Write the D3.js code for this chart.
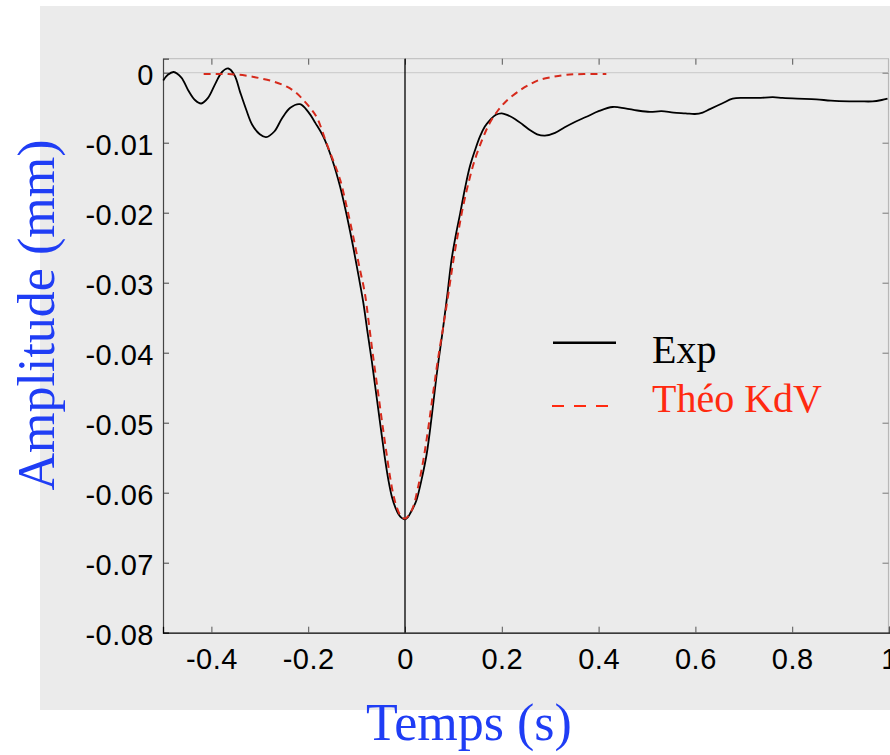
<!DOCTYPE html>
<html>
<head>
<meta charset="utf-8">
<script src="https://cdn.jsdelivr.net/npm/d3@7"></script>
<style>
  html, body { margin: 0; padding: 0; background: #ffffff; }
  svg { display: block; }
</style>
</head>
<body>
<svg id="chart" width="890" height="755"></svg>
<script>
// ---------- data ----------
const xTicks = [-0.4, -0.2, 0, 0.2, 0.4, 0.6, 0.8, 1];
const yTicks = [0, -0.01, -0.02, -0.03, -0.04, -0.05, -0.06, -0.07, -0.08];
const xLabel = "Temps (s)";
const yLabel = "Amplitude (mm)";
const seriesNames = ["Exp", "Théo KdV"];

const tExp = [-0.4995, -0.49, -0.478, -0.462, -0.448, -0.434, -0.421, -0.407, -0.392, -0.378,
  -0.365, -0.352, -0.341, -0.328, -0.316, -0.3, -0.287, -0.27, -0.254, -0.237,
  -0.217, -0.2, -0.185, -0.169, -0.15, -0.134, -0.12, -0.107, -0.096, -0.086,
  -0.078, -0.069, -0.062, -0.055, -0.048, -0.041, -0.034, -0.027, -0.02, -0.014,
  -0.007, 0, 0.006, 0.012, 0.018, 0.024, 0.034, 0.045, 0.055, 0.065,
  0.072, 0.079, 0.088, 0.096, 0.105, 0.114, 0.124, 0.134, 0.145, 0.155,
  0.165, 0.175, 0.188, 0.2, 0.213, 0.227, 0.243, 0.258, 0.273, 0.289,
  0.31, 0.33, 0.352, 0.375, 0.4, 0.429, 0.455, 0.48, 0.506, 0.53,
  0.555, 0.58, 0.599, 0.615, 0.63, 0.655, 0.677, 0.7, 0.73, 0.76,
  0.78, 0.81, 0.85, 0.88, 0.918, 0.94, 0.966, 0.985, 0.997];
const ampExp = [-0.0011, -0.0003, 0.0001, -0.0007, -0.0025, -0.0039, -0.0044, -0.0036, -0.0016, 0.0001,
  0.0006, -0.0004, -0.0027, -0.0053, -0.0074, -0.0088, -0.0092, -0.0084, -0.0065, -0.0050,
  -0.0045, -0.0056, -0.0072, -0.0091, -0.0125, -0.0163, -0.0205, -0.0249, -0.0290, -0.0329,
  -0.0368, -0.0410, -0.0446, -0.0482, -0.0518, -0.0553, -0.0583, -0.0606, -0.0621, -0.0630,
  -0.0636, -0.0638, -0.0635, -0.0628, -0.0620, -0.0610, -0.0582, -0.0544, -0.0492, -0.0434,
  -0.0398, -0.0363, -0.0314, -0.0268, -0.0232, -0.0201, -0.0165, -0.0134, -0.0110, -0.0091,
  -0.0077, -0.0068, -0.0060, -0.0058, -0.0061, -0.0066, -0.0074, -0.0082, -0.0088, -0.0090,
  -0.0086, -0.0078, -0.0070, -0.0063, -0.0055, -0.0049, -0.0051, -0.0054, -0.0056, -0.0055,
  -0.0057, -0.0058, -0.0059, -0.0057, -0.0052, -0.0044, -0.0037, -0.0036, -0.0036, -0.0035,
  -0.0036, -0.0037, -0.0038, -0.0040, -0.0041, -0.0041, -0.0041, -0.0039, -0.0037];

const tTheo = [-0.416, -0.39, -0.365, -0.33, -0.299, -0.27, -0.244, -0.226, -0.21, -0.195,
  -0.182, -0.162, -0.148, -0.134, -0.12, -0.107, -0.095, -0.083, -0.074, -0.065,
  -0.056, -0.048, -0.04, -0.031, -0.024, -0.0165, -0.008, 0, 0.008, 0.017,
  0.027, 0.038, 0.048, 0.058, 0.068, 0.079, 0.09, 0.1, 0.11, 0.12,
  0.132, 0.144, 0.16, 0.175, 0.192, 0.21, 0.24, 0.26, 0.279, 0.305,
  0.334, 0.37, 0.416];
const ampTheo = [-0.0002, -0.0002, -0.0002, -0.0004, -0.0008, -0.0013, -0.0020, -0.0028, -0.0039, -0.0051,
  -0.0064, -0.0101, -0.0126, -0.0153, -0.0193, -0.0234, -0.0275, -0.0315, -0.0362, -0.0410,
  -0.0455, -0.0496, -0.0535, -0.0577, -0.0603, -0.0622, -0.0634, -0.0637, -0.0632, -0.0620,
  -0.0592, -0.0553, -0.0508, -0.0458, -0.0410, -0.0363, -0.0314, -0.0268, -0.0228, -0.0191,
  -0.0155, -0.0125, -0.0095, -0.0072, -0.0054, -0.0040, -0.0024, -0.0016, -0.0010, -0.0006,
  -0.0003, -0.0002, -0.0002];

// ---------- drawing ----------
const svg = d3.select("#chart");
const W = 890, H = 755;

// gray figure background
svg.append("rect").attr("x", 40).attr("y", 6).attr("width", 850).attr("height", 704)
  .attr("fill", "#ebebeb");

const x = d3.scaleLinear().domain([-0.5, 1]).range([163, 889]);
const y = d3.scaleLinear().domain([-0.08, 0.002]).range([632.7, 58.7]);

const tickFont = "'Liberation Sans', Arial, Helvetica, sans-serif";
const serif = "'Liberation Serif', 'Times New Roman', Times, serif";
const fmt = d => d === 0 ? "0" : (Math.abs(d) >= 0.1 || Number.isInteger(d) ? String(d) : d.toFixed(2));
const fmtX = d => String(d);

// top border and right border (light gray)
svg.append("line").attr("x1", x(-0.5)).attr("x2", x(1)).attr("y1", y(0.002)).attr("y2", y(0.002))
  .attr("stroke", "#c4c4c4").attr("stroke-width", 1.2);
svg.append("line").attr("x1", x(1) - 0.5).attr("x2", x(1) - 0.5).attr("y1", y(0.002)).attr("y2", y(-0.08))
  .attr("stroke", "#b8b8b8").attr("stroke-width", 1.2);

// zero line (light gray)
svg.append("line").attr("x1", x(-0.5)).attr("x2", x(1)).attr("y1", y(0)).attr("y2", y(0))
  .attr("stroke", "#cfcfcf").attr("stroke-width", 1.2);

// top ticks (inside, pointing down)
const topAxis = d3.axisTop(x).tickValues(xTicks.filter(d => d < 1)).tickSize(-6).tickFormat("");
svg.append("g").attr("transform", `translate(0,${y(0.002)})`).call(topAxis)
  .call(g => g.select(".domain").remove())
  .call(g => g.selectAll(".tick line").attr("stroke", "#555").attr("stroke-width", 1));

// right ticks (inside, pointing left)
const rightAxis = d3.axisRight(y).tickValues(yTicks.filter(d => d !== -0.08)).tickSize(-6).tickFormat("");
svg.append("g").attr("transform", `translate(${x(1) - 0.5},0)`).call(rightAxis)
  .call(g => g.select(".domain").remove())
  .call(g => g.selectAll(".tick line").attr("stroke", "#777").attr("stroke-width", 1));

// left axis
const leftAxis = d3.axisLeft(y).tickValues(yTicks).tickSize(-6).tickPadding(9).tickFormat(fmt);
svg.append("g").attr("transform", `translate(${x(-0.5)},0)`).call(leftAxis)
  .call(g => g.select(".domain").attr("stroke", "#444").attr("stroke-width", 1.2))
  .call(g => g.selectAll(".tick line").attr("stroke", "#444").attr("stroke-width", 1))
  .call(g => g.selectAll(".tick text")
    .attr("font-family", tickFont).attr("font-size", 29).attr("fill", "#000")
    .attr("dy", "0.4em").attr("letter-spacing", "0.5px"));

// bottom axis
const bottomAxis = d3.axisBottom(x).tickValues(xTicks).tickSize(-6).tickPadding(15.5).tickFormat(fmtX);
svg.append("g").attr("transform", `translate(0,${y(-0.08)})`).call(bottomAxis)
  .call(g => g.select(".domain").attr("stroke", "#000").attr("stroke-width", 1.2))
  .call(g => g.selectAll(".tick line").attr("stroke", "#555").attr("stroke-width", 1))
  .call(g => g.selectAll(".tick text")
    .attr("font-family", tickFont).attr("font-size", 29).attr("fill", "#000")
    .attr("letter-spacing", "0.5px"));

// vertical line at t = 0
svg.append("line").attr("x1", x(0)).attr("x2", x(0)).attr("y1", y(0.002)).attr("y2", y(-0.08))
  .attr("stroke", "#000").attr("stroke-width", 1.3);

// curves
const line = d3.line().x(d => x(d[0])).y(d => y(d[1])).curve(d3.curveCatmullRom.alpha(0.5));
const expData = tExp.map((t, i) => [t, ampExp[i]]);
const theoData = tTheo.map((t, i) => [t, ampTheo[i]]);

svg.append("path").datum(expData).attr("d", line)
  .attr("fill", "none").attr("stroke", "#000").attr("stroke-width", 1.8);
svg.append("path").datum(theoData).attr("d", line)
  .attr("fill", "none").attr("stroke", "#d62a1c").attr("stroke-width", 2)
  .attr("stroke-dasharray", "7,5");

// legend
const lg = svg.append("g");
lg.append("line").attr("x1", 553).attr("x2", 616).attr("y1", 342.7).attr("y2", 342.7)
  .attr("stroke", "#000").attr("stroke-width", 2.6);
lg.append("line").attr("x1", 552).attr("x2", 612).attr("y1", 406).attr("y2", 406)
  .attr("stroke", "#ff2a10").attr("stroke-width", 2.2).attr("stroke-dasharray", "12,10");
lg.append("text").attr("x", 652).attr("y", 362.7).text(seriesNames[0])
  .attr("font-family", serif).attr("font-size", 40).attr("fill", "#000");
lg.append("text").attr("x", 652).attr("y", 411.7).text(seriesNames[1])
  .attr("font-family", serif).attr("font-size", 40).attr("fill", "#ff2a10");

// axis titles
svg.append("text").attr("x", 469).attr("y", 740).attr("text-anchor", "middle")
  .attr("font-family", serif).attr("font-size", 52).attr("fill", "#1f3df5").text(xLabel);
svg.append("text").attr("transform", "translate(54,315) rotate(-90)").attr("text-anchor", "middle")
  .attr("font-family", serif).attr("font-size", 52).attr("fill", "#1f3df5").text(yLabel);
</script>
</body>
</html>
